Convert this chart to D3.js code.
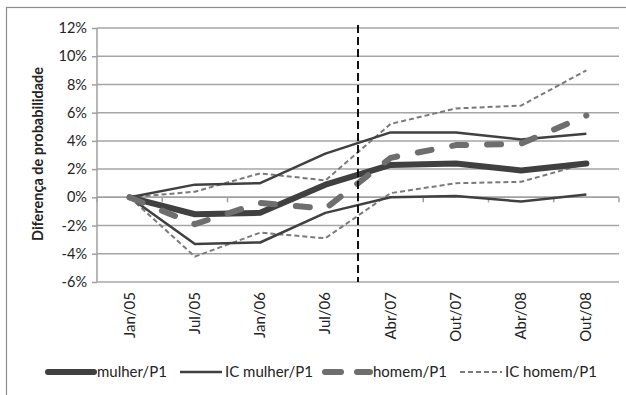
<!DOCTYPE html>
<meta charset="utf-8">
<style>
body { margin: 0; background: #fff; }
svg text { font-family: Lato, "Open Sans", sans-serif; fill: #222; }
.grid line { stroke: #a6a6a6; stroke-width: 1.5px; }
.axis path, .axis line { stroke: #a0a0a0; stroke-width: 1.5px; }
.axis text { font-size: 14.5px; }
</style>
<svg width="626" height="395"></svg>
<script src="https://d3js.org/d3.v7.min.js"></script>
<script>
// periods on the category axis
var periods = ["Jan/05", "Jul/05", "Jan/06", "Jul/06", "Abr/07", "Out/07", "Abr/08", "Out/08"];
// values in percent
var mulher    = [0, -1.2, -1.1, 0.9, 2.3, 2.4, 1.9, 2.4];
var icMulherU = [0, 0.9, 1.0, 3.1, 4.6, 4.6, 4.1, 4.5];
var icMulherL = [0, -3.3, -3.2, -1.1, 0.0, 0.1, -0.3, 0.2];
var homem     = [0, -1.9, -0.4, -0.8, 2.8, 3.7, 3.8, 5.8];
var icHomemU  = [0, 0.4, 1.7, 1.2, 5.2, 6.3, 6.5, 9.0];
var icHomemL  = [0, -4.2, -2.5, -2.9, 0.3, 1.0, 1.1, 2.4];
var yTicks = [-6, -4, -2, 0, 2, 4, 6, 8, 10, 12];
var breakAfter = "Jul/06"; // vertical dashed marker sits after this period

var svg = d3.select("svg");

// outer chart border
svg.append("rect")
    .attr("x", 6.5).attr("y", 7.5)
    .attr("width", 640).attr("height", 400)
    .attr("fill", "none").attr("stroke", "#8c8c8c").attr("stroke-width", 1.2);

var x = d3.scaleBand().domain(periods).range([97, 619]);
var y = d3.scaleLinear().domain([-6, 12]).range([282, 28]);
function cx(d, i) { return x(periods[i]) + x.bandwidth() / 2; }

// gridlines
svg.append("g").attr("class", "grid")
  .selectAll("line").data(yTicks).enter().append("line")
    .attr("x1", 97).attr("x2", 619)
    .attr("y1", function(d) { return y(d); })
    .attr("y2", function(d) { return y(d); });

// y axis
var yAxis = svg.append("g").attr("class", "axis")
    .attr("transform", "translate(97,0)")
    .call(d3.axisLeft(y).tickValues(yTicks).tickSize(5).tickPadding(5)
      .tickFormat(function(d) { return d + "%"; }));
yAxis.select(".domain").attr("d", "M0," + y(12) + "V" + y(-6));

// category axis crossing at 0%, ticks at band boundaries
var cAxis = svg.append("g").attr("class", "axis");
cAxis.append("line").attr("x1", 97).attr("x2", 619).attr("y1", y(0)).attr("y2", y(0));
cAxis.selectAll(".bt").data(periods.concat(["end"])).enter().append("line")
    .attr("class", "bt")
    .attr("x1", function(d, i) { return 97 + i * x.bandwidth(); })
    .attr("x2", function(d, i) { return 97 + i * x.bandwidth(); })
    .attr("y1", y(0)).attr("y2", y(0) + 5);

// category labels at the bottom, rotated
svg.append("g").selectAll("text").data(periods).enter().append("text")
    .attr("transform", function(d) {
      return "translate(" + (x(d) + x.bandwidth() / 2 + 5) + "," + 292 + ") rotate(-90)";
    })
    .attr("text-anchor", "end")
    .style("font-size", "15px")
    .text(function(d) { return d; });

// y axis title
svg.append("text")
    .attr("transform", "translate(43,154) rotate(-90)")
    .attr("text-anchor", "middle")
    .style("font-size", "14.5px").style("font-weight", "bold")
    .text("Diferença de probabilidade");

var line = d3.line().x(cx).y(function(d) { return y(d); });

var series = [
  { name: "IC homem/P1", values: icHomemU, color: "#7a7a7a", width: 2, dash: "5,3", cap: "butt" },
  { name: null, values: icHomemL, color: "#7a7a7a", width: 2, dash: "5,3", cap: "butt" },
  { name: "IC mulher/P1", values: icMulherU, color: "#404040", width: 2.5, dash: null, cap: "butt" },
  { name: null, values: icMulherL, color: "#404040", width: 2.5, dash: null, cap: "butt" },
  { name: "mulher/P1", values: mulher, color: "#404040", width: 6, dash: null, cap: "round" },
  { name: "homem/P1", values: homem, color: "#6e6e6e", width: 6, dash: "14,21", cap: "round" }
];

svg.append("g").selectAll("path").data(series).enter().append("path")
    .attr("d", function(d) { return line(d.values); })
    .attr("fill", "none")
    .attr("stroke", function(d) { return d.color; })
    .attr("stroke-width", function(d) { return d.width; })
    .attr("stroke-dasharray", function(d) { return d.dash; })
    .attr("stroke-linecap", function(d) { return d.cap; })
    .attr("stroke-linejoin", "round");

// vertical dashed break line
var bx = x(breakAfter) + x.bandwidth();
svg.append("line")
    .attr("x1", bx).attr("x2", bx).attr("y1", y(12) - 3).attr("y2", y(-6))
    .attr("stroke", "#111").attr("stroke-width", 2).attr("stroke-dasharray", "8,4");

// legend
var legendItems = [
  { s: series[4], x0: 48, x1: 94 },
  { s: series[2], x0: 180, x1: 222 },
  { s: series[5], x0: 325, x1: 370 },
  { s: series[0], x0: 460, x1: 502 }
];
var lg = svg.append("g").selectAll("g").data(legendItems).enter().append("g");
lg.append("line")
    .attr("x1", function(d) { return d.x0; }).attr("x2", function(d) { return d.x1; })
    .attr("y1", 372).attr("y2", 372)
    .attr("stroke", function(d) { return d.s.color; })
    .attr("stroke-width", function(d) { return d.s.width; })
    .attr("stroke-dasharray", function(d) { return d.s.dash === "14,21" ? "16,16" : d.s.dash; })
    .attr("stroke-linecap", function(d) { return d.s.cap; });
lg.append("text")
    .attr("x", function(d) { return d.x1 + 3; })
    .attr("y", 377)
    .style("font-size", "15px")
    .text(function(d) { return d.s.name; });
</script>
